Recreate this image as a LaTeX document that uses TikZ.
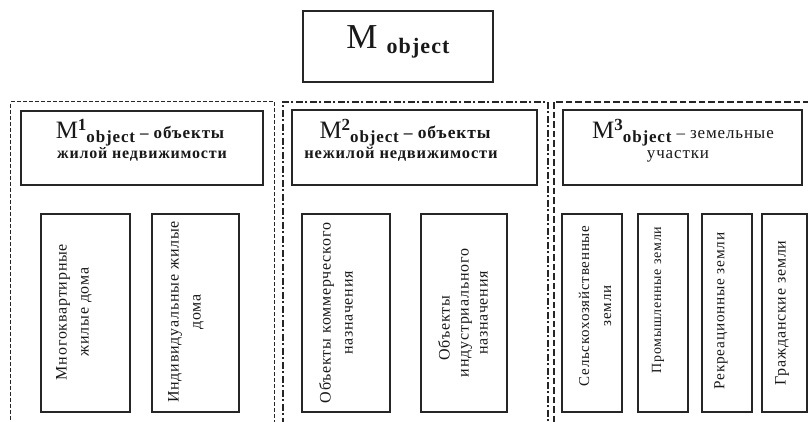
\documentclass[tikz,border=0pt]{standalone}
\usepackage{fontspec}
\setmainfont{Liberation Serif}
\newfontfamily\lsf[LetterSpace=5]{Liberation Serif}
\newcommand{\fs}[1]{\fontsize{#1}{#1}\selectfont}
\begin{document}
\begin{tikzpicture}[x=1pt,y=-1pt,
  box/.style={draw=black!85, line width=1.2pt, inner sep=0pt},
  framea/.style={draw=black!85, line width=1.3pt, dash pattern=on 4pt off 2pt, inner sep=0pt, anchor=north west},
  frameb/.style={draw=black!85, line width=1.5pt, dash pattern=on 7pt off 2.5pt on 2pt off 2.5pt, inner sep=0pt, anchor=north west},
  framec/.style={draw=black!85, line width=1.5pt, dash pattern=on 6.5pt off 3pt, inner sep=0pt, anchor=north west},
  vtext/.style={rotate=90, align=center, inner sep=0pt, font=\lsf\fs{16}, text=black!90},
  htext/.style={anchor=base, inner sep=0pt, text=black!90}]
\useasboundingbox (0,0) rectangle (808,421);
\clip (0,0) rectangle (808,421);
\fill[white] (0,0) rectangle (808,421);

% top box
\node[box, minimum width=190, minimum height=71] (top) at (398,46.5) {};
\node[htext] (toptxt) at (398,48) {\fs{35}M\hspace{9pt}\raisebox{-5pt}{\lsf\bfseries\fs{22}object}};

% frames
\node[framea, minimum width=264, minimum height=400] (f1) at (10,101) {};
\node[frameb, minimum width=265, minimum height=400] (f2) at (282,101) {};
\node[framec, minimum width=270, minimum height=400] (f3) at (553,101) {};

% header boxes
\node[box, minimum width=242, minimum height=74] (h1) at (142,148) {};
\node[box, minimum width=245, minimum height=75] (h2) at (414.5,147.5) {};
\node[box, minimum width=239, minimum height=75] (h3) at (682.5,147.5) {};

\node[htext] (h1a) at (140,138) {\fs{25}M\raisebox{8pt}{\bfseries\fs{17}1}\raisebox{-4.5pt}{\lsf\bfseries\fs{17}object}\lsf\bfseries\fs{17}\hspace{5pt}– объекты};
\node[htext] (h1b) at (142,158) {\lsf\bfseries\fs{16}жилой недвижимости};
\node[htext] (h2a) at (405,138) {\fs{25}M\raisebox{8pt}{\bfseries\fs{17}2}\raisebox{-4.5pt}{\lsf\bfseries\fs{17}object}\lsf\bfseries\fs{17.5}\hspace{5pt}– объекты};
\node[htext] (h2b) at (401,158) {\lsf\bfseries\fs{16.5}нежилой недвижимости};
\node[htext] (h3a) at (683,138) {\fs{25}M\raisebox{8pt}{\bfseries\fs{17}3}\raisebox{-4.5pt}{\lsf\bfseries\fs{17}object}\lsf\fs{17}\hspace{5pt}– земельные};
\node[htext] (h3b) at (678,158) {\lsf\fs{17}участки};

% sub boxes
\node[box, minimum width=89, minimum height=198] (a) at (85.5,313) {};
\node[box, minimum width=87, minimum height=198] (b) at (195.5,313) {};
\node[box, minimum width=88, minimum height=198] (c) at (346,313) {};
\node[box, minimum width=86, minimum height=198] (d) at (464,313) {};
\node[box, minimum width=60, minimum height=198] (e) at (592,313) {};
\node[box, minimum width=50, minimum height=198] (f) at (663,313) {};
\node[box, minimum width=50, minimum height=198] (g) at (727,313) {};
\node[box, minimum width=45, minimum height=198] (h) at (784.5,313) {};

\node[vtext] (ta) at (74,312) {Многоквартирные\\[6pt]жилые дома};
\node[vtext] (tb) at (186,312) {Индивидуальные жилые\\[6pt]дома};
\node[vtext] (tc) at (336,313) {Объекты коммерческого\\[6pt]назначения};
\node[vtext] (td) at (463,313) {Объекты\hspace*{30pt}\\[3pt]индустриального\\[3pt]назначения};
\node[vtext, font=\lsf\fs{15}] (te) at (595,306) {Сельскохозяйственные\\[7pt]земли};
\node[vtext, font=\lsf\fs{14}] (tf) at (658,300) {Промышленные земли};
\node[vtext, font=\lsf\fs{15.3}] (tg) at (721,311) {Рекреационные земли};
\node[vtext, font=\lsf\fs{16}] (th) at (782,313) {Гражданские земли};
\end{tikzpicture}
\end{document}
